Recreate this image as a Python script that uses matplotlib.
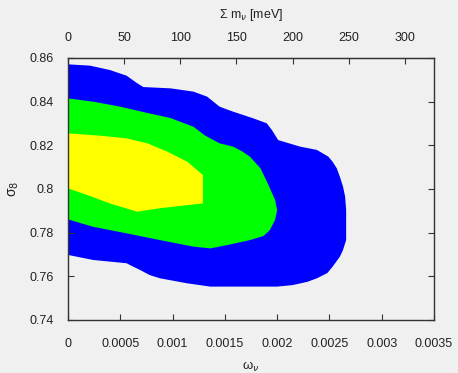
import matplotlib
matplotlib.use("Agg")
import matplotlib.pyplot as plt

# ---- data (omega_nu, sigma_8) boundaries of the confidence regions ----
blue_x = [0, 0.00021, 0.00040, 0.00056, 0.00066, 0.00072, 0.00098, 0.00120, 0.00133,
          0.00145, 0.00158, 0.00177, 0.00190, 0.00195, 0.00201, 0.00222, 0.00238,
          0.00249, 0.00253, 0.00257, 0.00260, 0.00263, 0.00265, 0.00266, 0.00266,
          0.00263, 0.00260, 0.00253, 0.00248, 0.00238, 0.00229, 0.00215,
          0.00200, 0.00136, 0.00114, 0.00088, 0.00078, 0.00069, 0.00062, 0.00056,
          0.00024, 0]
blue_y = [0.8571, 0.8565, 0.8545, 0.8519, 0.8485, 0.8467, 0.8461, 0.8446, 0.8423,
          0.8377, 0.8354, 0.8324, 0.8301, 0.8270, 0.8224, 0.8194, 0.8179,
          0.8148, 0.8125, 0.8095, 0.8056, 0.8011, 0.7965, 0.7904, 0.7766,
          0.7721, 0.7690, 0.7644, 0.7615, 0.7591, 0.7575, 0.7560,
          0.7553, 0.7553, 0.7568, 0.7591, 0.7606, 0.7629, 0.7645, 0.7660,
          0.7675, 0.7698]

green_x = [0, 0.00024, 0.00050, 0.00076, 0.00098, 0.00120, 0.00131, 0.00145, 0.00158,
           0.00167, 0.00174, 0.00184, 0.00191, 0.00198, 0.00200, 0.00198, 0.00193,
           0.00187, 0.00174, 0.00152, 0.00136, 0.00120, 0.00088, 0.00056, 0.00024, 0]
green_y = [0.8415, 0.8400, 0.8377, 0.8348, 0.8325, 0.8285, 0.8245, 0.8209, 0.8194,
           0.8171, 0.8148, 0.8095, 0.8026, 0.7950, 0.7904, 0.7858, 0.7812,
           0.7785, 0.7766, 0.7743, 0.7728, 0.7736, 0.7766, 0.7797, 0.7827, 0.7861]

yellow_x = [0, 0.00031, 0.00056, 0.00076, 0.00095, 0.00114, 0.00129, 0.00129,
            0.00088, 0.00066, 0.00040, 0.00018, 0]
yellow_y = [0.8255, 0.8244, 0.8232, 0.8209, 0.8171, 0.8125, 0.8064, 0.7934,
            0.7912, 0.7896, 0.7934, 0.7973, 0.8003]

x_ticks = [0, 0.0005, 0.001, 0.0015, 0.002, 0.0025, 0.003, 0.0035]
x_tick_labels = ["0", "0.0005", "0.001", "0.0015", "0.002", "0.0025", "0.003", "0.0035"]
y_ticks = [0.74, 0.76, 0.78, 0.80, 0.82, 0.84, 0.86]
y_tick_labels = ["0.74", "0.76", "0.78", "0.8", "0.82", "0.84", "0.86"]
top_ticks = [0, 50, 100, 150, 200, 250, 300]
mev_per_omega = 93140.0  # Sigma m_nu [meV] = 93.14 eV * omega_nu

plt.rcParams['font.family'] = ['Liberation Sans', 'DejaVu Sans']
plt.rcParams['mathtext.fontset'] = 'dejavusans'

bg = '#f0f0f0'
txt = '#222222'
fig = plt.figure(figsize=(4.58, 3.73), dpi=100, facecolor=bg)
ax = fig.add_axes([68/458, 53/373, 366/458, 262/373])
ax.set_facecolor(bg)

ax.fill(blue_x, blue_y, color='#0000ff', lw=0, zorder=1)
ax.fill(green_x, green_y, color='#00ff00', lw=0, zorder=2)
ax.fill(yellow_x, yellow_y, color='#ffff00', lw=0, zorder=3)

ax.set_xlim(0, 0.0035)
ax.set_ylim(0.74, 0.86)
ax.set_xticks(x_ticks)
ax.set_xticklabels(x_tick_labels)
ax.set_yticks(y_ticks)
ax.set_yticklabels(y_tick_labels)

axis_col = '#333333'
for s in ax.spines.values():
    s.set_color(axis_col)
    s.set_linewidth(1.0)
    s.set_zorder(5)

ax.tick_params(axis='x', direction='in', length=4.5, width=0.8, color=axis_col,
               labelsize=9, pad=13, top=False, labelcolor=txt)
ax.tick_params(axis='y', direction='in', length=4.5, width=0.8, color=axis_col,
               labelsize=9, pad=10, right=True, labelcolor=txt)

sec = ax.secondary_xaxis('top', functions=(lambda w: w * mev_per_omega,
                                           lambda m: m / mev_per_omega))
sec.set_xticks(top_ticks)
sec.set_xticklabels([str(t) for t in top_ticks])
sec.tick_params(direction='in', length=4.5, width=0.8, color=axis_col,
                labelsize=9, pad=10, labelcolor=txt)
sec.spines['top'].set_color(axis_col)
sec.set_xlabel(r'Σ m$_{\nu}$ [meV]', fontsize=9, labelpad=10, color=txt)

ax.set_xlabel(r'ω$_{\nu}$', fontsize=9.5, labelpad=7, color=txt)
ax.set_ylabel(r'σ$_{8}$', fontsize=10, labelpad=6, color=txt)

fig.savefig('out.png', dpi=100, facecolor=bg)
